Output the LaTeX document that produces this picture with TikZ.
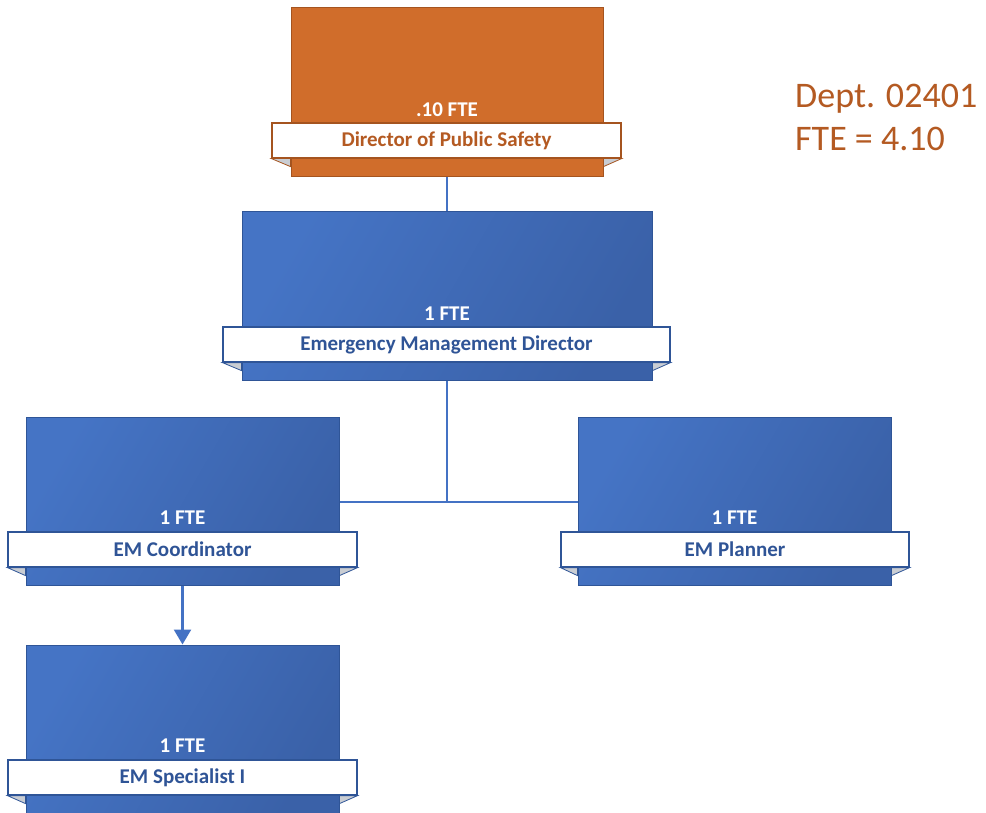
\documentclass[tikz,border=0pt]{standalone}
\usepackage{fontspec}
\setmainfont{Carlito}
\usetikzlibrary{arrows.meta}
\definecolor{bA}{HTML}{4574C5}
\definecolor{bB}{HTML}{3A61A8}
\definecolor{bdB}{HTML}{2F5597}
\definecolor{txB}{HTML}{2F5496}
\definecolor{oA}{HTML}{D06D2B}
\definecolor{bdO}{HTML}{A5541F}
\definecolor{txO}{HTML}{B45A22}
\definecolor{lnB}{HTML}{4472C4}
\definecolor{foldG}{HTML}{C9CDD3}
\tikzset{
  x=1pt, y=-1pt,
  bluebox/.style={draw=bdB, line width=1pt, shading=axis, left color=bA, right color=bB, shading angle=60, minimum width=313pt, minimum height=168pt, inner sep=0pt},
  orangebox/.style={draw=bdO, line width=1pt, fill=oA, minimum width=312pt, minimum height=169pt, inner sep=0pt},
  bandB/.style={draw=bdB, line width=1.2pt, fill=white, minimum height=35pt, inner sep=0pt, text=txB, font=\bfseries\fontsize{21}{24}\selectfont},
  bandO/.style={draw=bdO, line width=1.2pt, fill=white, minimum height=35pt, inner sep=0pt, text=txO, font=\bfseries\fontsize{21}{24}\selectfont},
  fte/.style={text=white, font=\bfseries\fontsize{21}{24}\selectfont, inner sep=0pt},
  foldB/.style={fill=foldG, draw=bdB, line width=0.8pt},
  foldO/.style={fill=foldG, draw=bdO, line width=0.8pt},
  conn/.style={draw=lnB, line width=2.5pt},
}
\newcommand{\folds}[3]{% band node, box node, style
  \path[#3] (#1.south west) -- (#2.west |- #1.south) -- ([yshift=-8pt]#2.west |- #1.south) -- cycle;
  \path[#3] (#1.south east) -- (#2.east |- #1.south) -- ([yshift=-8pt]#2.east |- #1.south) -- cycle;
}
\begin{document}
\begin{tikzpicture}
\useasboundingbox (0,0) rectangle (986,813);
% top box
\node[orangebox] (top) at (447,92.5) {};
\node[bandO, minimum width=349pt] (topband) at (446.5,140.5) {Director of Public Safety};
\folds{topband}{top}{foldO}
\node[fte] (topfte) at (447,110) {.10 FTE};
% EMD
\node[bluebox, minimum width=410pt] (emd) at (447,296) {};
\node[bandB, minimum width=447pt] (emdband) at (446.5,344.5) {Emergency Management Director};
\folds{emdband}{emd}{foldB}
\node[fte] (emdfte) at (447,314) {1 FTE};
% Coordinator
\node[bluebox] (coord) at (182.5,501) {};
\node[bandB, minimum width=349pt] (coordband) at (182.5,549.5) {EM Coordinator};
\folds{coordband}{coord}{foldB}
\node[fte] (coordfte) at (182.5,518) {1 FTE};
% Planner
\node[bluebox] (plan) at (734.5,501) {};
\node[bandB, minimum width=348pt] (planband) at (735,549.5) {EM Planner};
\folds{planband}{plan}{foldB}
\node[fte] (planfte) at (734.5,518) {1 FTE};
% Specialist
\node[bluebox] (spec) at (182.5,729) {};
\node[bandB, minimum width=349pt] (specband) at (182.5,777.5) {EM Specialist I};
\folds{specband}{spec}{foldB}
\node[fte] (specfte) at (182.5,746) {1 FTE};
% connectors
\coordinate (hub) at (447,502);
\draw[conn] (top.south) -- (emd.north);
\draw[conn] (emd.south) -- (hub);
\draw[conn] (coord.east |- hub) -- (plan.west |- hub);
\draw[conn, -{Triangle[length=15pt,width=17pt]}] (coord.south) -- (spec.north);
% dept label
\node[text=txO, font=\fontsize{36}{43}\selectfont, align=left, anchor=north west, inner sep=0pt] (dept) at (795,84) {Dept. 02401\\FTE = 4.10};
\end{tikzpicture}
\end{document}
